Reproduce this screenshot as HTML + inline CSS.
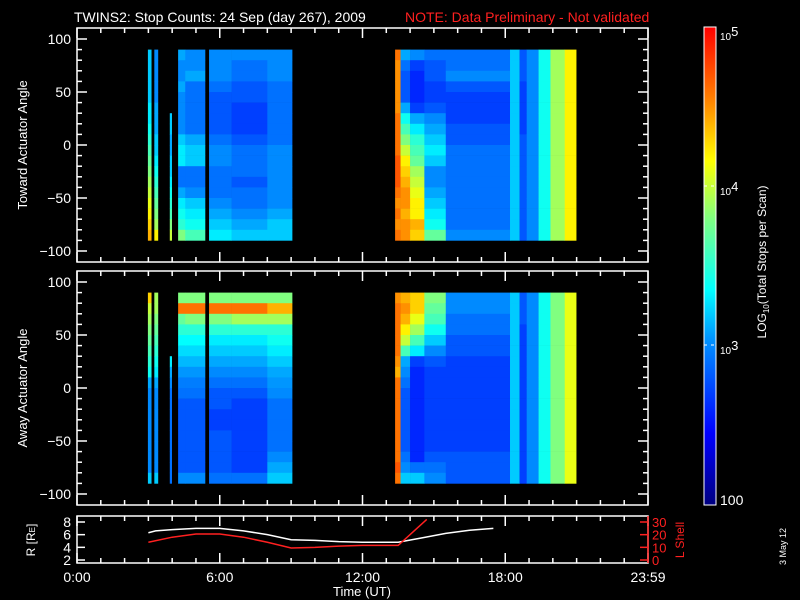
<!DOCTYPE html>
<html><head><meta charset="utf-8"><style>
html,body{margin:0;padding:0;background:#000;}
svg{display:block;font-family:"Liberation Sans",sans-serif;}
</style></head><body>
<svg id="c" width="800" height="600" xmlns="http://www.w3.org/2000/svg">
<rect width="800" height="600" fill="#000"/>
<text x="74" y="22" font-size="14" fill="#fff">TWINS2: Stop Counts: 24 Sep (day 267), 2009</text>
<text x="405" y="22" font-size="14" fill="#ff2020">NOTE: Data Preliminary - Not validated</text>
<g id="spec"></g>
<g id="axes" stroke="#fff" fill="none" stroke-width="1.5"></g>
<g id="labels" fill="#fff" font-size="14"></g>
<text transform="translate(27,145) rotate(-90)" text-anchor="middle" font-size="13" fill="#fff">Toward Actuator Angle</text>
<text transform="translate(27,388) rotate(-90)" text-anchor="middle" font-size="13" fill="#fff">Away Actuator Angle</text>
<text transform="translate(35,540) rotate(-90)" text-anchor="middle" font-size="12" fill="#fff">R [R<tspan font-size="8">E</tspan>]</text>
<text transform="translate(684,540) rotate(-90)" text-anchor="middle" font-size="12" fill="#ff2020">L Shell</text>
<text x="362" y="596" text-anchor="middle" font-size="13" fill="#fff">Time (UT)</text>
<defs><linearGradient id="cb" x1="0" y1="1" x2="0" y2="0">
<stop offset="0" stop-color="#000080"/><stop offset="0.15" stop-color="#0000ff"/><stop offset="0.35" stop-color="#0096ff"/><stop offset="0.45" stop-color="#00ffff"/><stop offset="0.6" stop-color="#80ff80"/><stop offset="0.72" stop-color="#ffff00"/><stop offset="0.85" stop-color="#ff8000"/><stop offset="1" stop-color="#ff0000"/></linearGradient></defs>
<rect x="704" y="27" width="12" height="478" fill="url(#cb)" stroke="#fff" stroke-width="1"/>
<line x1="704" y1="186" x2="716" y2="186" stroke="#fff" stroke-dasharray="3,4"/>
<line x1="704" y1="345" x2="716" y2="345" stroke="#fff" stroke-dasharray="3,4"/>
<text x="720" y="40" font-size="10" fill="#fff">10<tspan font-size="13" dy="-4">5</tspan></text>
<text x="720" y="195" font-size="10" fill="#fff">10<tspan font-size="13" dy="-4">4</tspan></text>
<text x="720" y="354" font-size="10" fill="#fff">10<tspan font-size="13" dy="-4">3</tspan></text>
<text x="720" y="505" font-size="14" fill="#fff">100</text>
<text transform="translate(766,262) rotate(-90)" text-anchor="middle" font-size="12" fill="#fff">LOG<tspan font-size="8" dy="3">10</tspan><tspan dy="-3">(Total Stops per Scan)</tspan></text>
<text transform="translate(786,565) rotate(-90)" font-size="9" fill="#fff">3 May 12</text>
</svg>
<script>
// ---- data ----
const segStart=[2.98,3.25,3.9,4.25,4.55,5.55,6.5,8.0,13.37,13.6,14.0,14.6,15.5,18.2,18.6,18.9,19.4,19.9,20.5];
const segEnd  =[3.12,3.40,3.98,4.55,5.38,6.5,8.0,9.04,13.6,14.0,14.6,15.5,18.2,18.6,18.9,19.4,19.9,20.5,20.98];
// 18 bins from +90 to -90 (toward)
const toward=[
[3.2,3.2,3.2,3.2,3.2,3.3,3.3,3.4,3.5,3.6,3.7,3.8,3.9,4.0,4.1,4.2,4.3,4.4],
[3.0,3.0,3.0,3.0,3.0,3.1,3.1,3.1,3.2,3.2,3.3,3.4,3.5,3.6,3.7,3.8,3.9,4.2],
[null,null,null,null,null,null,3.2,3.2,3.1,3.1,3.2,3.2,3.3,3.4,3.5,3.6,3.8,4.0],
[3.1,3.0,3.0,3.1,3.0,3.0,3.0,3.0,3.2,3.3,3.3,2.9,2.9,3.1,3.3,3.4,3.5,3.8],
[3.0,3.0,3.1,2.9,2.9,2.9,2.9,2.9,3.1,3.2,3.2,2.9,2.9,3.0,3.2,3.3,3.4,3.6],
[3.0,3.0,3.0,2.9,2.8,2.8,2.8,2.8,2.9,3.0,3.0,2.9,2.9,2.9,3.0,3.1,3.2,3.3],
[3.0,2.9,2.9,2.8,2.8,2.7,2.7,2.7,2.8,2.9,2.9,2.9,2.8,2.9,2.9,3.0,3.1,3.2],
[3.0,3.0,3.0,2.9,2.9,2.9,2.9,2.9,2.9,3.0,3.0,3.0,3.0,3.0,3.0,3.1,3.2,3.2],
[4.6,4.5,4.5,4.5,4.5,4.5,4.6,4.6,4.6,4.6,4.7,4.7,4.7,4.6,4.5,4.6,4.5,4.6],
[3.1,2.9,2.8,2.8,2.8,3.1,3.4,3.6,3.8,4.0,4.2,4.3,4.4,4.5,4.5,4.4,4.5,4.5],
[3.0,2.7,2.6,2.6,2.6,2.7,3.1,3.3,3.5,3.6,3.7,3.9,4.0,4.1,4.2,4.2,4.4,4.3],
[2.9,2.8,2.8,2.7,2.7,2.8,3.0,3.1,3.2,3.3,3.2,3.0,3.0,3.1,3.2,3.3,3.4,3.7],
[2.9,2.9,3.0,2.8,2.7,2.7,2.7,2.8,2.8,2.9,2.9,2.9,2.9,2.9,2.9,2.9,2.9,3.0],
[3.2,3.2,3.2,3.2,3.2,3.2,3.2,3.2,3.2,3.2,3.2,3.2,3.2,3.2,3.2,3.2,3.2,3.2],
[2.8,2.8,2.8,2.7,2.7,2.7,2.7,2.7,2.8,2.8,2.8,2.8,2.8,2.8,2.8,2.8,2.8,2.8],
[3.0,3.0,3.0,3.0,3.0,3.0,3.0,3.0,3.0,3.0,3.0,3.0,3.0,3.0,3.0,3.0,3.0,3.0],
[3.4,3.4,3.4,3.4,3.4,3.4,3.4,3.4,3.4,3.4,3.4,3.4,3.4,3.4,3.4,3.4,3.4,3.4],
[3.9,3.9,3.9,3.9,3.9,3.9,3.9,3.9,3.9,3.9,3.9,3.9,3.9,3.9,3.9,3.9,3.9,3.9],
[4.2,4.2,4.2,4.2,4.2,4.2,4.2,4.2,4.2,4.2,4.2,4.2,4.2,4.2,4.2,4.2,4.2,4.2]];
const away=[
[4.3,4.0,3.9,3.8,3.7,3.6,3.5,3.4,3.1,3.0,3.0,3.0,3.0,3.0,3.0,3.0,3.0,3.2],
[3.9,3.9,3.8,3.7,3.6,3.5,3.4,3.3,3.1,3.0,3.0,3.0,3.0,3.0,3.0,3.0,3.0,3.2],
[null,null,null,null,null,null,3.3,3.1,3.0,2.9,2.9,2.9,2.9,2.9,2.9,2.9,2.9,2.9],
[3.8,4.6,3.7,3.5,3.35,3.25,3.15,3.05,2.95,2.9,2.8,2.8,2.8,2.8,2.8,2.8,2.8,3.0],
[3.8,4.6,3.8,3.5,3.35,3.25,3.15,3.05,2.95,2.9,2.8,2.8,2.8,2.8,2.8,2.8,2.8,3.0],
[3.8,4.6,3.8,3.5,3.3,3.2,3.1,3.0,2.9,2.8,2.8,2.7,2.7,2.8,2.8,2.8,2.8,2.9],
[3.8,4.6,3.9,3.5,3.3,3.2,3.1,3.0,2.9,2.8,2.7,2.7,2.7,2.7,2.7,2.7,2.7,2.9],
[3.8,4.4,3.9,3.5,3.4,3.3,3.2,3.1,3.05,3.0,2.9,2.9,2.9,2.9,2.9,3.0,3.1,3.2],
[4.5,4.6,4.6,4.6,4.6,4.6,4.5,4.4,4.6,4.6,4.6,4.6,4.6,4.6,4.6,4.6,4.7,4.6],
[4.4,4.5,4.4,4.2,4.0,3.6,3.1,3.0,2.9,2.8,2.8,2.8,2.8,2.8,2.8,2.9,3.0,3.2],
[4.3,4.3,4.1,3.9,3.6,3.3,2.7,2.6,2.6,2.6,2.6,2.6,2.6,2.6,2.6,2.6,2.9,3.2],
[3.8,3.7,3.6,3.4,3.2,3.0,2.8,2.7,2.7,2.7,2.7,2.7,2.7,2.7,2.7,2.8,2.9,3.0],
[3.0,3.0,2.9,2.9,2.8,2.8,2.7,2.7,2.7,2.7,2.7,2.7,2.7,2.7,2.7,2.8,2.8,2.8],
[3.2,3.2,3.2,3.2,3.2,3.2,3.2,3.2,3.2,3.2,3.2,3.2,3.2,3.2,3.2,3.2,3.2,3.2],
[2.8,2.8,2.8,2.7,2.7,2.7,2.7,2.7,2.7,2.7,2.7,2.7,2.7,2.7,2.7,2.7,2.7,2.7],
[3.0,3.0,3.0,3.0,3.0,3.0,3.0,3.0,3.0,3.0,3.0,3.0,3.0,3.0,3.0,3.0,3.0,3.0],
[3.4,3.4,3.4,3.4,3.4,3.4,3.4,3.4,3.4,3.4,3.4,3.4,3.4,3.4,3.4,3.4,3.4,3.4],
[3.8,3.8,3.8,3.8,3.8,3.8,3.8,3.8,3.8,3.8,3.8,3.8,3.8,3.8,3.8,3.8,3.8,3.8],
[4.1,4.1,4.1,4.1,4.1,4.1,4.1,4.1,4.1,4.1,4.1,4.1,4.1,4.1,4.1,4.1,4.1,4.1]];
const angleTicks=[-100,-50,0,50,100];
const timeTickLabels=["0:00","6:00","12:00","18:00","23:59"];
const orbitT=[3,3.3,4,5,6,7,8,9,10,11,12,13.5,14.5,15.5,16.5,17.5];
const orbitR=[6.3,6.6,6.8,7.0,7.0,6.6,6.0,5.2,5.1,4.9,4.8,4.8,5.5,6.2,6.7,7.0];
const lshellT=[3,4,5,6,7,8,9,10,11,12,13.5,14.7];
const lshellL=[14,18,20.5,20.5,18,14,9.5,10,11,11.5,11.5,32];
const rTicks=[2,4,6,8];
const lTicks=[0,10,20,30];

// ---- scales ----
const X0=77,X1=648;
const xT=t=>X0+t*(X1-X0)/24;
const yA=(a,c)=>c-a*1.06;
const yR=r=>560-(r-2)*(38/6);
const yL=l=>560-l*(38/30);
const stops=[[0,[0,0,128]],[0.15,[0,0,255]],[0.35,[0,150,255]],[0.45,[0,255,255]],[0.6,[128,255,128]],[0.72,[255,255,0]],[0.85,[255,128,0]],[1,[255,0,0]]];
function col(v){let t=Math.max(0,Math.min(1,(v-2)/3));for(let i=1;i<stops.length;i++){if(t<=stops[i][0]){const a=stops[i-1],b=stops[i],f=(t-a[0])/(b[0]-a[0]);return 'rgb('+a[1].map((c,k)=>Math.round(c+(b[1][k]-c)*f)).join(',')+')';}}return 'rgb(255,0,0)';}
const NS='http://www.w3.org/2000/svg';
function mk(tag,attrs,parent){const e=document.createElementNS(NS,tag);for(const k in attrs)e.setAttribute(k,attrs[k]);parent.appendChild(e);return e;}
const spec=document.getElementById('spec'),axes=document.getElementById('axes'),labels=document.getElementById('labels');

function drawSpec(mat,center,name){
  for(let s=0;s<segStart.length;s++){
    for(let b=0;b<18;b++){
      const v=mat[s][b]; if(v==null)continue;
      const a0=90-b*10,a1=a0-10;
      const y0=yA(a0,center),y1=yA(a1,center);
      const r=mk('rect',{x:xT(segStart[s]),y:y0,width:xT(segEnd[s])-xT(segStart[s])+0.3,height:y1-y0+0.3,fill:col(v)},spec);
      
      
    }
  }
}
drawSpec(toward,145,'toward');
drawSpec(away,388,'away');

function frame(top,bot,name){
  const r=mk('rect',{x:X0,y:top,width:X1-X0,height:bot-top},axes);
  
  
  for(let h=0;h<=24;h++){const x=xT(h),L=h%6==0?10:5;
    mk('line',{x1:x,y1:top,x2:x,y2:top+L},axes);mk('line',{x1:x,y1:bot,x2:x,y2:bot-L},axes);}
}
function angleAxis(top,bot,center,name){
  frame(top,bot,name);
  for(let a=-100;a<=100;a+=10){const y=yA(a,center),L=a%50==0?10:5;
    mk('line',{x1:X0,y1:y,x2:X0+L,y2:y},axes);mk('line',{x1:X1,y1:y,x2:X1-L,y2:y},axes);}
  angleTicks.forEach(a=>{const t=mk('text',{x:X0-6,y:yA(a,center)+5,'text-anchor':'end'},labels);t.textContent=a==0?'0':(a<0?'\u2212'+(-a):a);
    
    });
}
angleAxis(28,262,145,'toward');
angleAxis(271,505,388,'away');
frame(516,563,'orbit');
rTicks.forEach(r=>{const y=yR(r);mk('line',{x1:X0,y1:y,x2:X0+8,y2:y},axes);
  const t=mk('text',{x:X0-6,y:y+5,'text-anchor':'end'},labels);t.textContent=r;
  
  });
const svg=document.getElementById('c');
const rax=mk('line',{x1:X1,y1:516,x2:X1,y2:563,stroke:'#ff2020','stroke-width':1.5},svg);


lTicks.forEach(l=>{const y=yL(l);mk('line',{x1:X1,y1:y,x2:X1-8,y2:y,stroke:'#ff2020','stroke-width':1.5},svg);
  const t=mk('text',{x:X1+4,y:y+5,fill:'#ff2020','font-size':13},labels);t.textContent=l;
  
  });
timeTickLabels.forEach((s,i)=>{const t=mk('text',{x:xT(i*6),y:582,'text-anchor':'middle'},labels);t.textContent=s;
  
  });
// lines
const clip=mk('clipPath',{id:'oc'},document.querySelector('defs'));mk('rect',{x:X0,y:516,width:X1-X0,height:47},clip);
const pr=mk('polyline',{points:orbitT.map((t,i)=>xT(t)+','+yR(orbitR[i])).join(' '),fill:'none',stroke:'#fff','stroke-width':1.5,'clip-path':'url(#oc)'},svg);


const pl=mk('polyline',{points:lshellT.map((t,i)=>xT(t)+','+yL(lshellL[i])).join(' '),fill:'none',stroke:'#ff2020','stroke-width':1.5,'clip-path':'url(#oc)'},svg);


</script>
</body></html>
